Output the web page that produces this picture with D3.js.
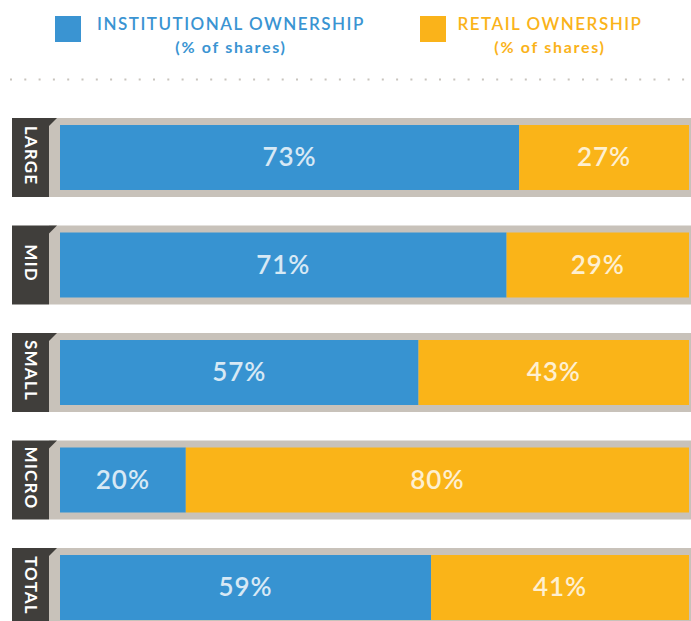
<!DOCTYPE html>
<html>
<head>
<meta charset="utf-8">
<script src="https://cdn.jsdelivr.net/npm/d3@7"></script>
<style>
  body { margin: 0; background: #ffffff; }
  svg { display: block; }
</style>
</head>
<body>
<svg id="chart"></svg>
<script>
// data
var categories = ["LARGE", "MID", "SMALL", "MICRO", "TOTAL"];
var institutional = [73, 71, 57, 20, 59];
var retail = [27, 29, 43, 80, 41];
var seriesNames = ["INSTITUTIONAL OWNERSHIP", "RETAIL OWNERSHIP"];
var seriesSub = "(% of shares)";

var width = 691, height = 621;
var blue = "#3793d1", yellow = "#fab418";
var trackColor = "#c8c2ba", tabColor = "#403e3b";
var fontFamily = "Lato, 'Open Sans', sans-serif";

var svg = d3.select("#chart")
    .attr("width", width)
    .attr("height", height);

//legend
var legend = [
  {name: seriesNames[0], color: "#3a94d2", sq: 55, cx: 231},
  {name: seriesNames[1], color: "#fab31a", sq: 420, cx: 550}
];
var lg = svg.selectAll("g.legend")
    .data(legend)
    .enter()
    .append("g")
    .attr("class", "legend");

lg.append("rect")
    .attr("x", function(d){ return d.sq; })
    .attr("y", 16)
    .attr("width", 26)
    .attr("height", 26)
    .attr("fill", function(d){ return d.color; });

lg.append("text")
    .attr("x", function(d){ return d.cx; })
    .attr("y", 30)
    .attr("text-anchor", "middle")
    .style("font", "600 17px " + fontFamily)
    .style("letter-spacing", "1.5px")
    .style("fill", function(d){ return d.color; })
    .text(function(d){ return d.name; });

lg.append("text")
    .attr("x", function(d){ return d.cx; })
    .attr("y", 53)
    .attr("text-anchor", "middle")
    .style("font", "700 16px " + fontFamily)
    .style("letter-spacing", "1.7px")
    .style("fill", function(d){ return d.color; })
    .text(seriesSub);

//dotted separator
svg.append("line")
    .attr("x1", 10)
    .attr("x2", 688)
    .attr("y1", 79.5)
    .attr("y2", 79.5)
    .style("stroke", "#c8c4bd")
    .style("stroke-width", "2px")
    .style("stroke-dasharray", "2, 12.3");

//scales
var y = d3.scaleBand()
    .domain(categories)
    .range([118, 118 + 107.5 * 5])
    .paddingInner(0)
    .paddingOuter(0);
var trackH = 79;

var x = d3.scaleLinear()
    .domain([0, 100])
    .range([60, 689]);

var rows = svg.selectAll("g.row")
    .data(categories.map(function(c, i){
        return {cat: c, inst: institutional[i], ret: retail[i]};
    }))
    .enter()
    .append("g")
    .attr("class", "row")
    .attr("transform", function(d){ return "translate(0," + y(d.cat) + ")"; });

//grey track
rows.append("rect")
    .attr("x", 49)
    .attr("y", 0)
    .attr("width", width - 49)
    .attr("height", trackH)
    .attr("fill", trackColor);

//dark tab
rows.append("rect")
    .attr("x", 12)
    .attr("y", 0)
    .attr("width", 37)
    .attr("height", trackH)
    .attr("fill", tabColor);

rows.append("path")
    .attr("d", "M49,0 L57,0 L49,8 Z")
    .attr("fill", tabColor);

rows.append("text")
    .attr("transform", "translate(25," + (trackH / 2 - 2) + ") rotate(90)")
    .attr("text-anchor", "middle")
    .style("font", "700 17px " + fontFamily)
    .style("letter-spacing", "1.2px")
    .style("fill", "#ffffff")
    .text(function(d){ return d.cat; });

//bars
rows.append("rect")
    .attr("x", x(0))
    .attr("y", 7)
    .attr("width", function(d){ return x(d.inst) - x(0); })
    .attr("height", 65)
    .attr("fill", blue);

rows.append("rect")
    .attr("x", function(d){ return x(d.inst); })
    .attr("y", 7)
    .attr("width", function(d){ return x(d.inst + d.ret) - x(d.inst); })
    .attr("height", 65)
    .attr("fill", yellow);

//value labels
rows.append("text")
    .attr("x", function(d){ return (x(0) + x(d.inst)) / 2; })
    .attr("y", 48)
    .attr("text-anchor", "middle")
    .style("font", "600 26px " + fontFamily)
    .style("letter-spacing", "1px")
    .style("fill", "#ffffff")
    .style("opacity", 0.8)
    .text(function(d){ return d.inst + "%"; });

rows.append("text")
    .attr("x", function(d){ return (x(d.inst) + x(d.inst + d.ret)) / 2; })
    .attr("y", 48)
    .attr("text-anchor", "middle")
    .style("font", "600 26px " + fontFamily)
    .style("letter-spacing", "1px")
    .style("fill", "#ffffff")
    .style("opacity", 0.8)
    .text(function(d){ return d.ret + "%"; });
</script>
</body>
</html>
